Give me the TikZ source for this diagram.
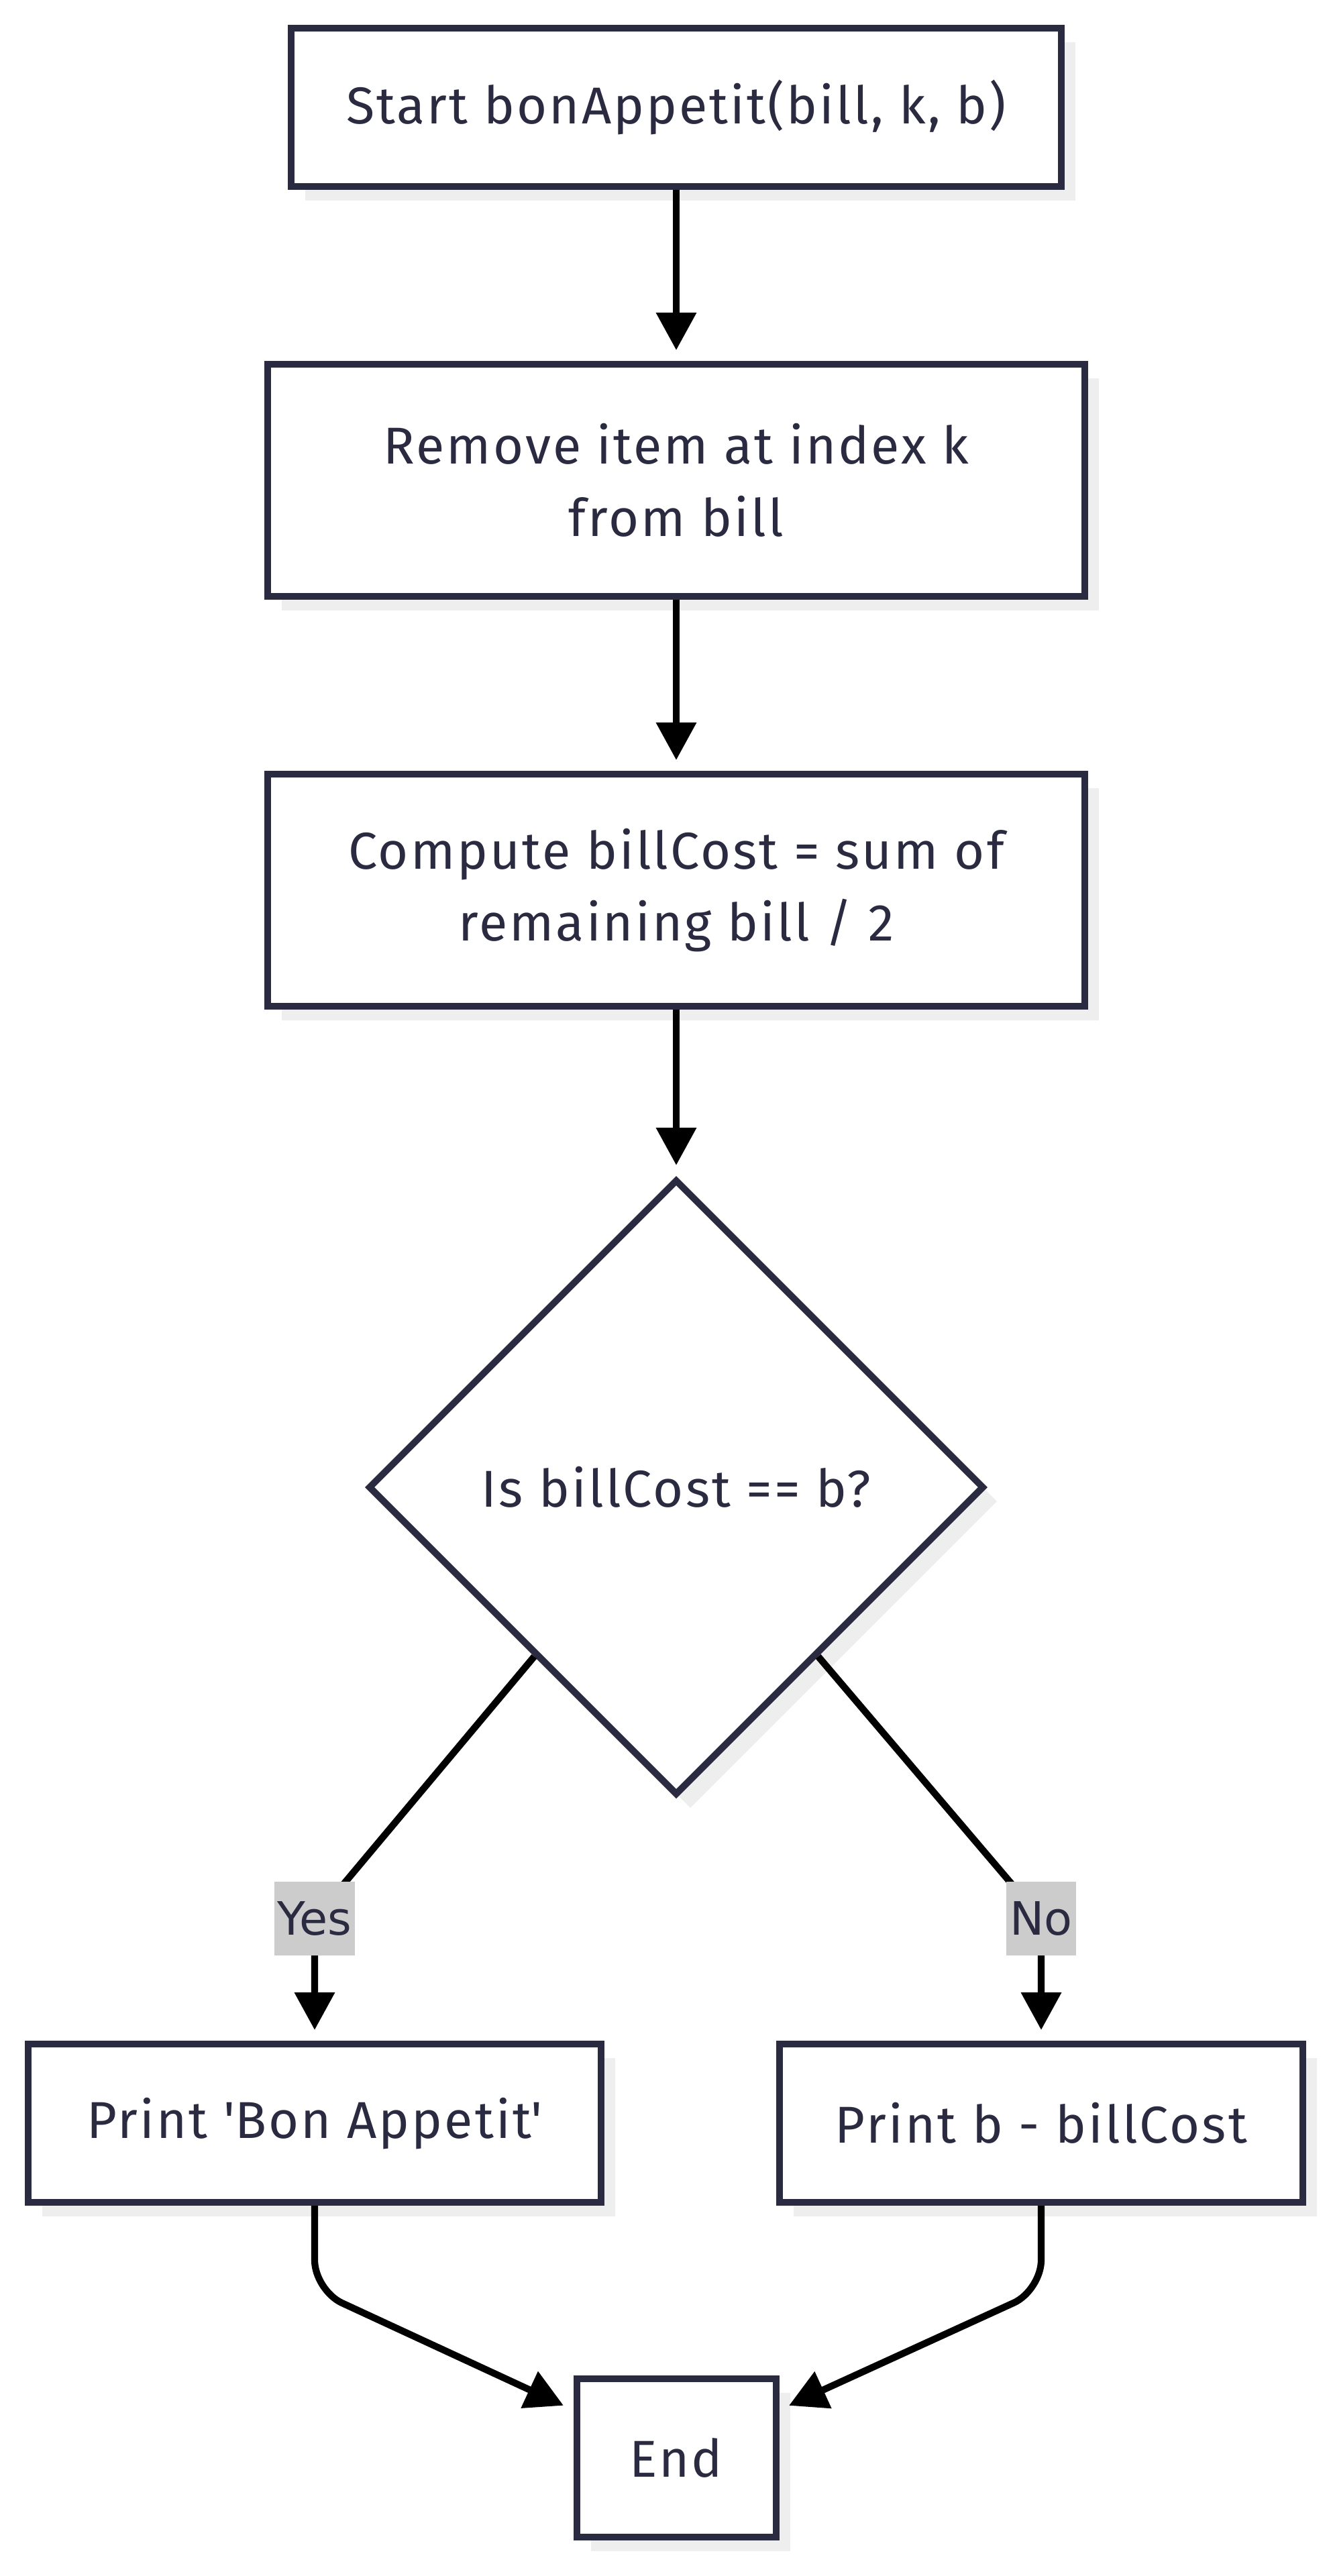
\documentclass[tikz,border=0pt]{standalone}
\usepackage{fontspec}
\setmainfont{Fira Sans}[LetterSpace=4]
\newfontfamily\labelfont{DejaVu Sans}
\usepackage{xcolor}
\usetikzlibrary{positioning}
\usetikzlibrary{arrows.meta}
\usetikzlibrary{shapes.geometric}
\usetikzlibrary{shadows}
\definecolor{ink}{HTML}{2A2A40}
\definecolor{shade}{HTML}{EEEEEE}
\definecolor{tag}{HTML}{CCCCCC}

\begin{document}
\begin{tikzpicture}
  \tikzset{Process/.style={rectangle, draw=ink, line width=2.85pt, fill=white, text=ink, align=center, minimum height=2.36cm, font=\fontsize{22}{30.7}\selectfont, drop shadow={shadow xshift=0.21cm, shadow yshift=-0.21cm, fill=shade, opacity=1}}};
  \tikzset{Decision/.style={diamond, draw=ink, line width=2.85pt, fill=white, text=ink, aspect=1, inner sep=0pt, minimum width=9.18cm, minimum height=9.18cm, font=\fontsize{22}{30.7}\selectfont, drop shadow={shadow xshift=0.21cm, shadow yshift=-0.21cm, fill=shade, opacity=1}}};
  \tikzset{Answer/.style={rectangle, fill=tag, text=ink, inner xsep=0.05cm, inner ysep=0pt, minimum height=1.1cm, font=\labelfont\fontsize{19.5}{23}\selectfont}};
  \tikzset{Flow/.style={-{Triangle[length=0.56cm,width=0.58cm]}, line width=2.9pt, shorten >=0.16cm}};
  \useasboundingbox (0,0) rectangle (19.84,-38.4);
  \node[Process, minimum width=11.48cm] (a) at (10.08,-1.60) {Start bonAppetit(bill, k, b)};
  \node[Process, minimum width=12.18cm, minimum height=3.46cm][below=2.55cm of a] (b) {Remove item at index k\\from bill};
  \node[Process, minimum width=12.18cm, minimum height=3.46cm][below=2.55cm of b] (c) {Compute billCost = sum of\\remaining bill / 2};
  \node[Decision][below=2.48cm of c] (d) {Is billCost == b?};
  \node[Process, minimum width=8.54cm][below=3.61cm of d, xshift=-5.39cm] (e) {Print \textquotesingle Bon Appetit\textquotesingle};
  \node[Process, minimum width=7.80cm][below=3.61cm of d, xshift=5.44cm] (f) {Print b - billCost};
  \node[Process, minimum width=2.97cm][below=2.53cm of e, xshift=5.39cm] (g) {End};
  \coordinate[above=1.82cm of e.north] (yb);
  \coordinate[above=1.82cm of f.north] (nb);
  \coordinate[below=1.26cm of e.south] (ec);
  \coordinate[below=1.26cm of f.south] (fc);
  \draw[Flow] (a) -- (b);
  \draw[Flow] (b) -- (c);
  \draw[Flow] (c) -- (d);
  \draw[Flow] (d.-130) -- (yb) node[Answer] (ya) {Yes} -- (e.north);
  \draw[Flow] (d.-50) -- (nb) node[Answer] (na) {No} -- (f.north);
  \draw[Flow, rounded corners=0.45cm] (e.south) -- (ec) -- (g.155);
  \draw[Flow, rounded corners=0.45cm] (f.south) -- (fc) -- (g.25);
\end{tikzpicture}
\end{document}
